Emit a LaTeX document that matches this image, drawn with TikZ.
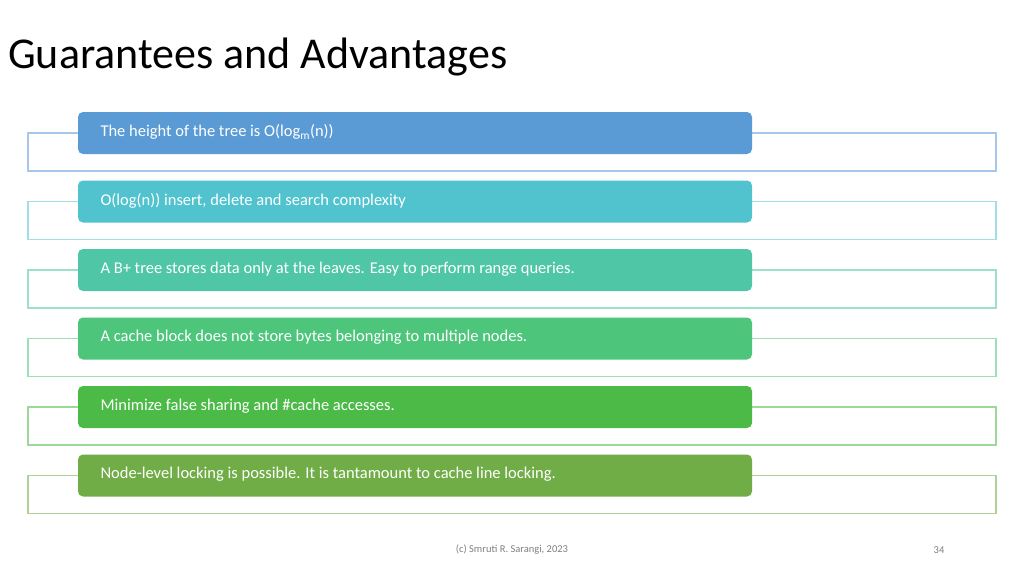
\documentclass[tikz,border=0pt]{standalone}
\usepackage{fontspec}
\setmainfont{Carlito}
\begin{document}
\begin{tikzpicture}[x=1pt,y=-1pt,
 outer/.style={draw=#1!55!white,line width=1.2pt,fill=white},
 bar/.style={fill=#1,rounded corners=5pt,draw=none},
 lbl/.style={text=white,anchor=west,font=\fontsize{16.5}{18}\selectfont}]
\useasboundingbox[fill=white] (0,0) rectangle (1024,576);
\node[anchor=base west,inner sep=0,font=\fontsize{44}{48}\selectfont\addfontfeatures{}] (title) at (8,68) {Guarantees and Advantages};
\definecolor{c1}{HTML}{5B9BD5}
\definecolor{c2}{HTML}{51C3CE}
\definecolor{c3}{HTML}{4FC7A6}
\definecolor{c4}{HTML}{4DC57A}
\definecolor{c5}{HTML}{4BBA46}
\definecolor{c6}{HTML}{70AD47}
\foreach \i/\c/\t in {0/c1/{The height of the tree is O(log\textsubscript{m}(n))},
 1/c2/{O(log(n)) insert, delete and search complexity},
 2/c3/{A B+ tree stores data only at the leaves. Easy to perform range queries.},
 3/c4/{A cache block does not store bytes belonging to multiple nodes.},
 4/c5/{Minimize false sharing and \#cache accesses.},
 5/c6/{Node-level locking is possible. It is tantamount to cache line locking.}}{
  \pgfmathsetmacro{\y}{112+68.5*\i}
  \draw[outer=\c] (28,\y+21) rectangle (996,\y+59);
  \fill[bar=\c] (78,\y) rectangle (752,\y+42);
  \node[lbl] (t\i) at (97,\y+20) {\t};
}
\node[text=gray,font=\fontsize{10.5}{12}\selectfont] (foot) at (512,550) {(c) Smruti R. Sarangi, 2023};
\node[text=gray,font=\fontsize{10.5}{12}\selectfont] (num) at (939,550) {34};
\end{tikzpicture}
\end{document}
